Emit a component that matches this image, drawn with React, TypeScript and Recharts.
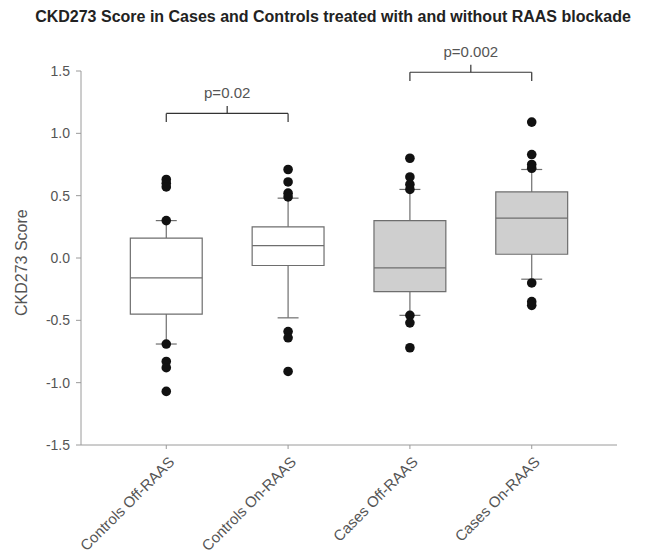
import type { ReactElement } from 'react';
import {
  ComposedChart,
  ReferenceArea,
  ReferenceDot,
  ReferenceLine,
  Scatter,
  XAxis,
  YAxis,
} from 'recharts';

const categories = ['Controls Off-RAAS', 'Controls On-RAAS', 'Cases Off-RAAS', 'Cases On-RAAS'];
const whiskerLow = [-0.69, -0.48, -0.46, -0.17];
const quartile1 = [-0.45, -0.06, -0.27, 0.03];
const medians = [-0.16, 0.1, -0.08, 0.32];
const quartile3 = [0.16, 0.25, 0.3, 0.53];
const whiskerHigh = [0.3, 0.48, 0.55, 0.71];
const outliers = [
  [0.63, 0.6, 0.57, 0.3, -0.69, -0.83, -0.88, -1.07],
  [0.71, 0.61, 0.52, 0.49, -0.59, -0.64, -0.91],
  [0.8, 0.65, 0.59, 0.55, -0.46, -0.52, -0.72],
  [1.09, 0.83, 0.75, 0.72, -0.2, -0.35, -0.38],
];
const yTicks = [-1.5, -1.0, -0.5, 0, 0.5, 1.0, 1.5];
const comparisons = [
  { from: 0, to: 1, y: 1.16, label: 'p=0.02' },
  { from: 2, to: 3, y: 1.49, label: 'p=0.002' },
];

const FONT = 'Arial, "Liberation Sans", sans-serif';
const TEXT = '#555';
const AXIS = '#9a9a9a';
const LINE = '#6e6e6e';
const BRACKET = '#333';
const boxFills = ['#ffffff', '#ffffff', '#cfcfcf', '#cfcfcf'];
const BOX_HALF = 0.295;
const CAP_HALF = 0.086;
const HOOK = 0.07;

const points = outliers.flatMap((group, i) => group.map((y) => ({ x: i, y })));

// each bracket: left hook, bar, right hook, centre nub
const bracketSegments = comparisons.flatMap((c) => {
  const mid = (c.from + c.to) / 2;
  return [
    [{ x: c.from, y: c.y - HOOK }, { x: c.from, y: c.y }],
    [{ x: c.from, y: c.y }, { x: c.to, y: c.y }],
    [{ x: c.to, y: c.y }, { x: c.to, y: c.y - HOOK }],
    [{ x: mid, y: c.y }, { x: mid, y: c.y + 0.06 }],
  ];
});

function XTick(props: { x?: number; y?: number; payload?: { value: number } }): ReactElement {
  const { x = 0, y = 0, payload } = props;
  return (
    <g transform={`translate(${x + 9},${y + 12})`}>
      <text
        textAnchor="end"
        transform="rotate(-45)"
        fill={TEXT}
        fontSize={15}
        fontFamily={FONT}
      >
        {categories[payload?.value ?? 0]}
      </text>
    </g>
  );
}

function Dot(props: { cx?: number; cy?: number }): ReactElement {
  return <circle cx={props.cx} cy={props.cy} r={4.8} fill="#111" />;
}

export default function App(): ReactElement {
  return (
    <div style={{ position: 'absolute', left: 0, top: 0, width: 646, height: 554, background: '#fff' }}>
      <div
        style={{
          position: 'absolute',
          left: 10,
          top: 8,
          width: 646,
          textAlign: 'center',
          fontFamily: FONT,
          fontWeight: 'bold',
          fontSize: 16,
          color: '#222',
        }}
      >
        CKD273 Score in Cases and Controls treated with and without RAAS blockade
      </div>
      <div style={{ position: 'absolute', left: 0, top: 0 }}>
        <ComposedChart
          width={646}
          height={554}
          margin={{ top: 71, right: 29, bottom: 9, left: 21 }}
        >
          <XAxis
            type="number"
            dataKey="x"
            domain={[-0.7, 3.7]}
            ticks={[0, 1, 2, 3]}
            allowDataOverflow
            height={100}
            stroke={AXIS}
            tickSize={4}
            tick={<XTick />}
          />
          <YAxis
            type="number"
            dataKey="y"
            domain={[-1.5, 1.5]}
            ticks={yTicks}
            allowDataOverflow
            width={60}
            stroke={AXIS}
            tickSize={5}
            tickMargin={6}
            tick={{ fill: TEXT, fontSize: 14, fontFamily: FONT }}
            tickFormatter={(v: number) => v.toFixed(1)}
            label={{
              value: 'CKD273 Score',
              angle: -90,
              position: 'insideLeft',
              dx: -5,
              dy: 58,
              fill: TEXT,
              fontSize: 16,
              fontFamily: FONT,
            }}
          />
          {categories.map((_, i) => (
            <ReferenceLine
              key={`wh-${i}`}
              segment={[
                { x: i, y: quartile3[i] },
                { x: i, y: whiskerHigh[i] },
              ]}
              stroke={LINE}
              strokeWidth={1.2}
            />
          ))}
          {categories.map((_, i) => (
            <ReferenceLine
              key={`wl-${i}`}
              segment={[
                { x: i, y: whiskerLow[i] },
                { x: i, y: quartile1[i] },
              ]}
              stroke={LINE}
              strokeWidth={1.2}
            />
          ))}
          {categories.map((_, i) => (
            <ReferenceLine
              key={`ch-${i}`}
              segment={[
                { x: i - CAP_HALF, y: whiskerHigh[i] },
                { x: i + CAP_HALF, y: whiskerHigh[i] },
              ]}
              stroke={LINE}
              strokeWidth={1.2}
            />
          ))}
          {categories.map((_, i) => (
            <ReferenceLine
              key={`cl-${i}`}
              segment={[
                { x: i - CAP_HALF, y: whiskerLow[i] },
                { x: i + CAP_HALF, y: whiskerLow[i] },
              ]}
              stroke={LINE}
              strokeWidth={1.2}
            />
          ))}
          {categories.map((_, i) => (
            <ReferenceArea
              key={`box-${i}`}
              x1={i - BOX_HALF}
              x2={i + BOX_HALF}
              y1={quartile1[i]}
              y2={quartile3[i]}
              fill={boxFills[i]}
              fillOpacity={1}
              stroke={LINE}
              strokeWidth={1.2}
            />
          ))}
          {categories.map((_, i) => (
            <ReferenceLine
              key={`med-${i}`}
              segment={[
                { x: i - BOX_HALF, y: medians[i] },
                { x: i + BOX_HALF, y: medians[i] },
              ]}
              stroke={LINE}
              strokeWidth={1.2}
            />
          ))}
          {bracketSegments.map((seg, k) => (
            <ReferenceLine
              key={`br-${k}`}
              segment={seg}
              stroke={BRACKET}
              strokeWidth={1.2}
              ifOverflow="visible"
            />
          ))}
          {comparisons.map((c) => (
            <ReferenceDot
              key={`bt-${c.label}`}
              x={(c.from + c.to) / 2}
              y={c.y}
              ifOverflow="visible"
              shape={(p: { cx?: number; cy?: number }) => (
                <text
                  x={p.cx}
                  y={(p.cy ?? 0) - 15}
                  textAnchor="middle"
                  fill={TEXT}
                  fontSize={15}
                  fontFamily={FONT}
                >
                  {c.label}
                </text>
              )}
            />
          ))}
          <Scatter data={points} dataKey="y" shape={<Dot />} isAnimationActive={false} />
        </ComposedChart>
      </div>
    </div>
  );
}
